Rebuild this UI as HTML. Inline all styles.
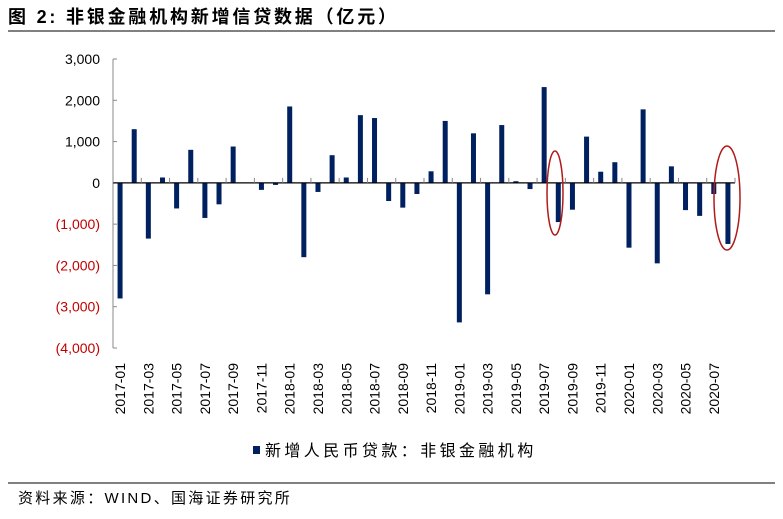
<!DOCTYPE html>
<html><head><meta charset="utf-8"><style>
body{margin:0;background:#fff;width:783px;height:514px;overflow:hidden;font-family:"Liberation Sans","Noto Sans CJK SC",sans-serif}
</style></head><body>
<svg width="783" height="514" xmlns="http://www.w3.org/2000/svg">
<text x="8" y="23" font-size="18" font-weight="bold" fill="#000" letter-spacing="2.8">图 2: 非银金融机构新增信贷数据（亿元）</text>
<line x1="8" y1="31" x2="775" y2="31" stroke="#000" stroke-width="1"/>
<g id="yaxis"></g>
<g id="bars"></g>
<g id="xaxis"></g>
<ellipse cx="555" cy="193" rx="8" ry="42" fill="none" stroke="#b01b1b" stroke-width="1.5"/>
<ellipse cx="727" cy="198" rx="13" ry="52" fill="none" stroke="#b01b1b" stroke-width="1.5"/>
<rect x="253" y="446" width="7" height="8" fill="#002060"/>
<text x="265" y="456" font-size="16" fill="#000" letter-spacing="3.4">新增人民币贷款：非银金融机构</text>
<line x1="8" y1="483" x2="775" y2="483" stroke="#000" stroke-width="1"/>
<text x="18" y="503" font-size="15" fill="#000" letter-spacing="2.3">资料来源：WIND、国海证券研究所</text>
</svg>
<script>
const categories=["2017-01","2017-02","2017-03","2017-04","2017-05","2017-06","2017-07","2017-08","2017-09","2017-10","2017-11","2017-12","2018-01","2018-02","2018-03","2018-04","2018-05","2018-06","2018-07","2018-08","2018-09","2018-10","2018-11","2018-12","2019-01","2019-02","2019-03","2019-04","2019-05","2019-06","2019-07","2019-08","2019-09","2019-10","2019-11","2019-12","2020-01","2020-02","2020-03","2020-04","2020-05","2020-06","2020-07","2020-08"];
const values=[-2800,1300,-1350,130,-620,800,-850,-520,880,0,-170,-50,1850,-1800,-220,670,130,1640,1570,-440,-600,-270,280,1500,-3380,1200,-2700,1400,40,-150,2320,-950,-650,1120,270,500,-1570,1780,-1950,400,-660,-800,-270,-1480];
const yTicks=[3000,2000,1000,0,-1000,-2000,-3000,-4000];
const yTickLabels=["3,000","2,000","1,000","0","(1,000)","(2,000)","(3,000)","(4,000)"];
const NS="http://www.w3.org/2000/svg";
const x0=113,x1=735,yTop=59,yBot=348,ymax=3000,ymin=-4000;
const y=v=>yTop+(ymax-v)/(ymax-ymin)*(yBot-yTop);
const step=(x1-x0)/categories.length;
const xc=i=>x0+step*(i+0.5);
function mk(t,a,p){const e=document.createElementNS(NS,t);for(const k in a)e.setAttribute(k,a[k]);p.appendChild(e);return e;}
const ya=document.getElementById('yaxis'),bg=document.getElementById('bars'),xa=document.getElementById('xaxis');
const yl=mk('line',{x1:x0,y1:yTop,x2:x0,y2:yBot,stroke:'#888','stroke-width':1},ya);


yTicks.forEach((v,i)=>{
  const t=mk('line',{x1:x0,y1:y(v),x2:x0+4,y2:y(v),stroke:'#888'},ya);
  
  
  const tx=mk('text',{x:100,y:y(v)+5,'text-anchor':'end','font-size':14,fill:v<0?'#c00000':'#000'},ya);
  tx.textContent=yTickLabels[i];
  
  
});
values.forEach((v,i)=>{
  const top=Math.min(y(v),y(0)),h=Math.abs(y(v)-y(0));
  const r=mk('rect',{x:xc(i)-2.5,y:top,width:5,height:Math.max(h,0.5),fill:'#002060'},bg);
  
  
});
const xl=mk('line',{x1:x0,y1:y(0),x2:x1,y2:y(0),stroke:'#000','stroke-width':1.2},xa);


categories.forEach((c,i)=>{
  if(i%2===0){
    const tk=mk('line',{x1:x0+step*i,y1:y(0),x2:x0+step*i,y2:y(0)-5,stroke:'#888'},xa);
    
    
    const tx=mk('text',{x:0,y:0,'text-anchor':'end','font-size':14,fill:'#000',transform:`translate(${xc(i)+5},363) rotate(-90)`},xa);
    tx.textContent=c;
    
    
  }
});
const et=mk('line',{x1:x1,y1:y(0),x2:x1,y2:y(0)-5,stroke:'#888'},xa);


</script>
</body></html>
